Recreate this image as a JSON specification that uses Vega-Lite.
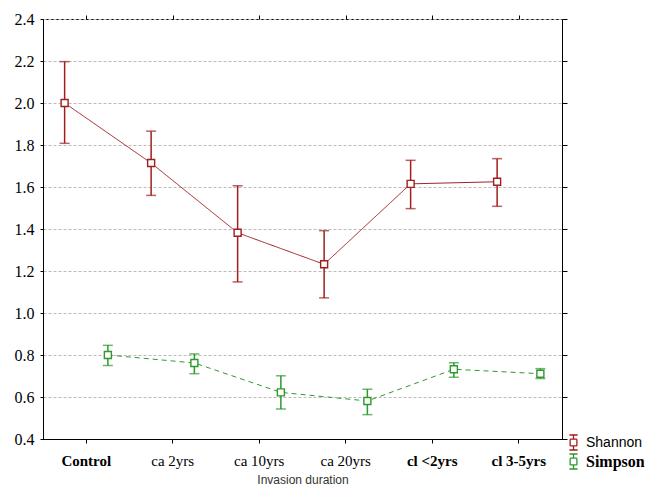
{
  "$schema": "https://vega.github.io/schema/vega-lite/v6.json",
  "autosize": "none",
  "width": 519,
  "height": 420,
  "padding": {"left": 43, "top": 19, "right": 97, "bottom": 49},
  "background": "white",
  "config": {
    "view": {"stroke": "black", "strokeWidth": 1},
    "axis": {"domainColor": "black", "tickColor": "black", "labelColor": "black"}
  },
  "data": {
    "values": [
      {"cat": "Control", "series": "Shannon", "mean": 2.0, "lo": 1.808, "hi": 2.197},
      {"cat": "ca 2yrs", "series": "Shannon", "mean": 1.714, "lo": 1.56, "hi": 1.866},
      {"cat": "ca 10yrs", "series": "Shannon", "mean": 1.382, "lo": 1.148, "hi": 1.606},
      {"cat": "ca 20yrs", "series": "Shannon", "mean": 1.232, "lo": 1.072, "hi": 1.392},
      {"cat": "cl <2yrs", "series": "Shannon", "mean": 1.615, "lo": 1.497, "hi": 1.727},
      {"cat": "cl 3-5yrs", "series": "Shannon", "mean": 1.625, "lo": 1.508, "hi": 1.735},
      {"cat": "Control", "series": "Simpson", "mean": 0.8, "lo": 0.75, "hi": 0.846},
      {"cat": "ca 2yrs", "series": "Simpson", "mean": 0.762, "lo": 0.711, "hi": 0.805},
      {"cat": "ca 10yrs", "series": "Simpson", "mean": 0.622, "lo": 0.543, "hi": 0.701},
      {"cat": "ca 20yrs", "series": "Simpson", "mean": 0.581, "lo": 0.516, "hi": 0.637},
      {"cat": "cl <2yrs", "series": "Simpson", "mean": 0.732, "lo": 0.694, "hi": 0.763},
      {"cat": "cl 3-5yrs", "series": "Simpson", "mean": 0.711, "lo": 0.688, "hi": 0.735}
    ]
  },
  "layer": [
    {
      "encoding": {
        "x": {
          "field": "cat", "type": "nominal",
          "sort": ["Control", "ca 2yrs", "ca 10yrs", "ca 20yrs", "cl <2yrs", "cl 3-5yrs"],
          "scale": {"paddingInner": 0, "paddingOuter": 0},
          "axis": {
            "title": "Invasion duration",
            "titleFont": "Liberation Sans", "titleFontWeight": "normal", "titleFontSize": 12, "titleColor": "#333333",
            "titlePadding": 6,
            "labelFont": "Liberation Serif", "labelFontSize": 15,
            "labelAngle": 0, "tickSize": 4, "labelPadding": 10,
            "labelFontWeight": {"condition": {"test": "indexof(datum.value, 'ca') === 0", "value": "normal"}, "value": "bold"},
            "grid": false,
            "encode": {"ticks": {"update": {"y2": {"value": -4}}}}
          }
        },
        "xOffset": {"field": "series", "type": "nominal", "scale": {"paddingInner": 0, "paddingOuter": 0}}
      },
      "layer": [
        {
          "mark": {"type": "rule", "strokeWidth": 1.5},
          "encoding": {
            "y": {"field": "lo", "type": "quantitative", "scale": {"domain": [0.4, 2.4], "nice": false, "zero": false},
              "axis": {"title": null, "values": [0.4,0.6,0.8,1.0,1.2,1.4,1.6,1.8,2.0,2.2,2.4], "format": ".1f",
                "labelFont": "Liberation Serif", "labelFontSize": 16,
                "grid": true, "gridColor": "#bbbbbb", "gridDash": [3, 2], "tickSize": 3, "labelPadding": 6}},
            "y2": {"field": "hi"},
            "stroke": {"field": "series", "type": "nominal", "scale": {"domain": ["Shannon", "Simpson"], "range": ["#A01E1E", "#2E992E"]},
              "legend": {
                "title": null, "orient": "none", "legendX": 522, "legendY": 415,
                "symbolType": "M-0.45,-0.45H0.45 M0.45,-0.45V0.45 M0.45,0.45H-0.45 M-0.45,0.45V-0.45 M0,-0.45V-1 M-0.55,-1H0.55 M0,0.45V1 M-0.55,1H0.55",
                "symbolSize": 225, "symbolStrokeWidth": 1.3, "symbolOpacity": 1, "symbolDash": [1, 0],
                "labelFontSize": 15, "labelColor": "black", "rowPadding": -4,
                "encode": {
                  "symbols": {"update": {"strokeDash": {"value": [1, 0]}}},
                  "labels": {"update": {
                    "font": {"signal": "datum.label == 'Simpson' ? 'Liberation Serif' : 'Liberation Sans'"},
                    "fontWeight": {"signal": "datum.label == 'Simpson' ? 'bold' : 'normal'"},
                    "fontSize": {"signal": "datum.label == 'Simpson' ? 16 : 14"}
                  }}
                }
              }}
          }
        },
        {
          "mark": {"type": "tick", "size": 10, "thickness": 1.5},
          "encoding": {"y": {"field": "hi", "type": "quantitative"},
            "color": {"field": "series", "type": "nominal", "scale": {"domain": ["Shannon", "Simpson"], "range": ["#A01E1E", "#2E992E"]}, "legend": null}}
        },
        {
          "mark": {"type": "tick", "size": 10, "thickness": 1.5},
          "encoding": {"y": {"field": "lo", "type": "quantitative"},
            "color": {"field": "series", "type": "nominal", "legend": null}}
        },
        {
          "mark": {"type": "line", "strokeWidth": 1},
          "encoding": {
            "y": {"field": "mean", "type": "quantitative"},
            "stroke": {"field": "series", "type": "nominal"},
            "strokeDash": {"condition": {"test": "datum.series == 'Simpson'", "value": [5, 4]}, "value": [1, 0]}
          }
        },
        {
          "mark": {"type": "point", "shape": "square", "filled": false, "fill": "white", "size": 49, "strokeWidth": 1.4, "opacity": 1},
          "encoding": {"y": {"field": "mean", "type": "quantitative"}, "stroke": {"field": "series", "type": "nominal"}}
        }
      ]
    },
    {
      "mark": {"type": "point", "opacity": 0},
      "encoding": {
        "x": {"field": "cat", "type": "nominal", "sort": ["Control", "ca 2yrs", "ca 10yrs", "ca 20yrs", "cl <2yrs", "cl 3-5yrs"],
          "scale": {"paddingInner": 0, "paddingOuter": 0},
          "axis": {"orient": "top", "labels": false, "title": null, "tickSize": 4, "domain": false,
            "encode": {"ticks": {"update": {"y2": {"value": 4}}}}}},
        "y": {"field": "mean", "type": "quantitative", "scale": {"domain": [0.4, 2.4], "nice": false, "zero": false},
          "axis": {"orient": "right", "labels": false, "title": null, "tickSize": 5, "grid": false, "domain": false,
            "values": [0.4,0.6,0.8,1.0,1.2,1.4,1.6,1.8,2.0,2.2,2.4],
            "encode": {"ticks": {"update": {"x2": {"value": -5}}}}}}
      }
    }
  ],
  "resolve": {"scale": {"x": "independent", "y": "independent"}}
}
